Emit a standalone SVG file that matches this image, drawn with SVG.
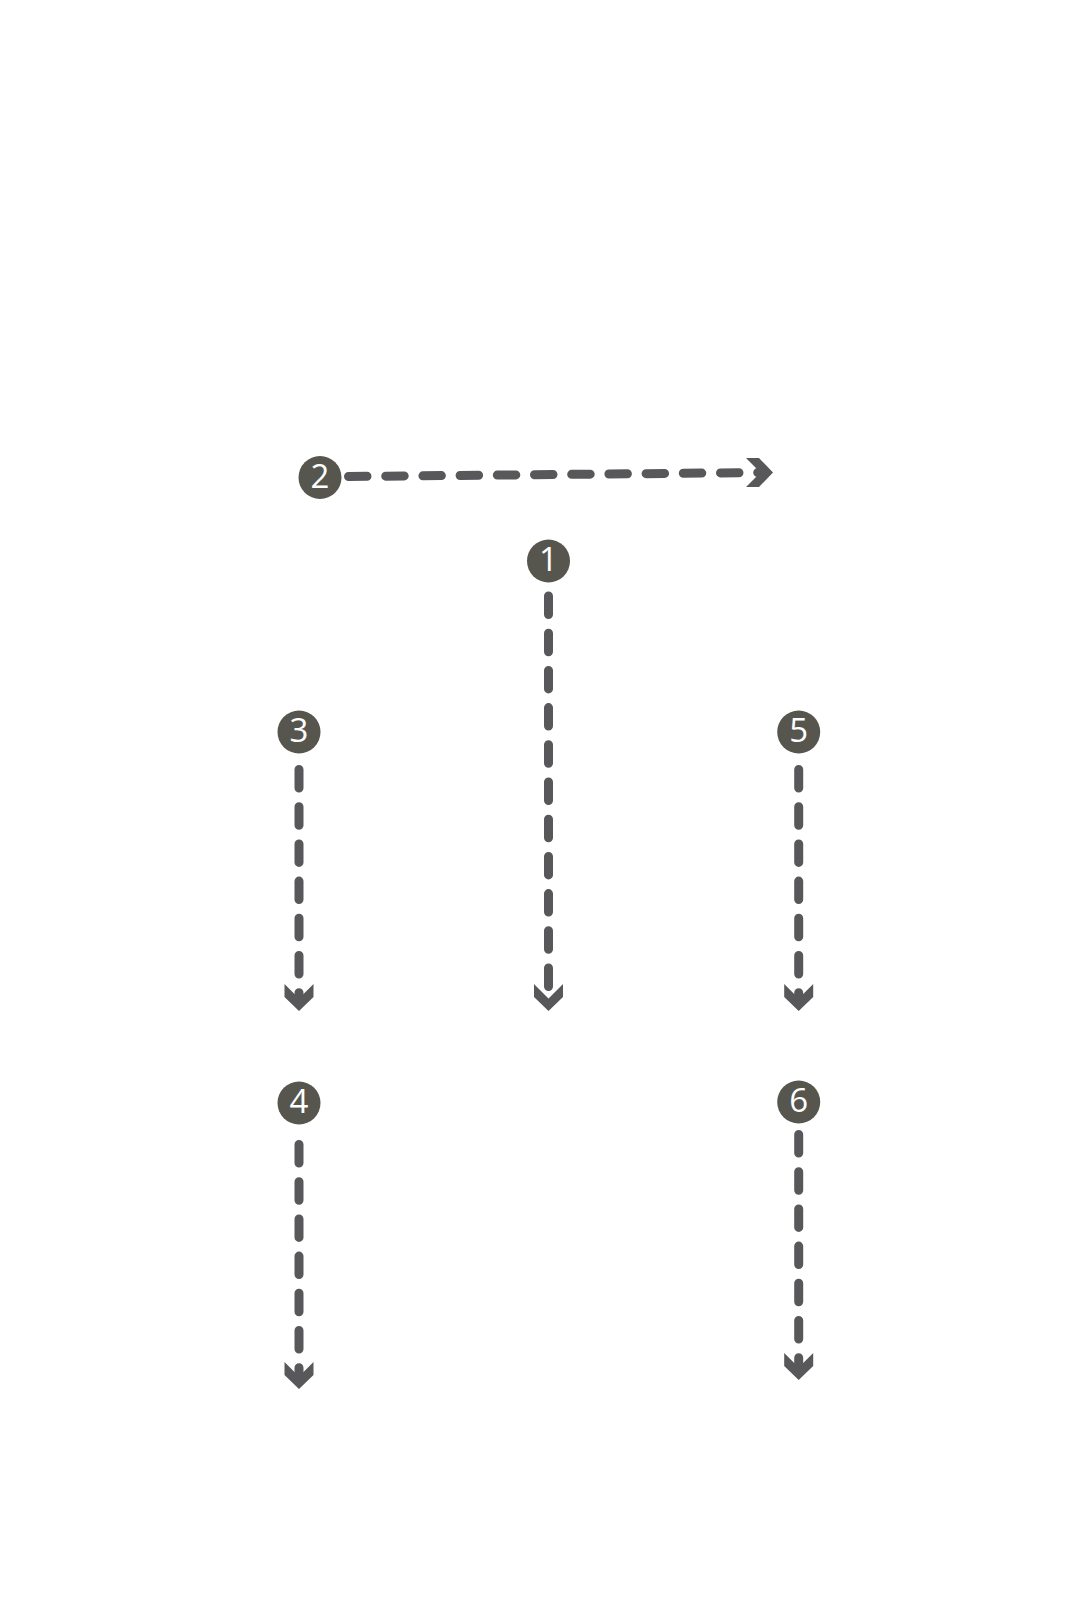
<svg xmlns="http://www.w3.org/2000/svg" xmlns:xlink="http://www.w3.org/1999/xlink" width="1067" height="1600" viewBox="0 0 1067 1600">
  <style>
    .dash { fill: none; stroke: #58585a; stroke-width: 9; stroke-linecap: round; stroke-dasharray: 18.5 18.7; }
    .head { fill: #58585a; }
    .badge { fill: #57564e; }
    .num { fill: #ffffff; font-family: "Open Sans", "Noto Sans", "Liberation Sans", sans-serif; font-size: 33px; text-anchor: middle; }
  </style>
  <defs>
    <polygon id="chev" class="head" points="-14.5,-27 0,-12.5 14.5,-27 14.5,-14 0,0 -14.5,-14"/>
  </defs>
  <rect width="1067" height="1600" fill="#ffffff"/>
  <g id="connectors">
    <path class="dash" d="M348.5,476.5 L763,472.5"/>
    <use xlink:href="#chev" transform="translate(773,472.5) rotate(-90)"/>
    <path class="dash" d="M548.5,596 L548.5,1000"/>
    <use xlink:href="#chev" transform="translate(548.5,1011)"/>
    <path class="dash" d="M299,769.5 L299,1000"/>
    <use xlink:href="#chev" transform="translate(299,1011)"/>
    <path class="dash" d="M798.7,769.5 L798.7,1000"/>
    <use xlink:href="#chev" transform="translate(798.7,1011)"/>
    <path class="dash" d="M299,1144.5 L299,1378"/>
    <use xlink:href="#chev" transform="translate(299,1389)"/>
    <path class="dash" d="M798.7,1134.5 L798.7,1369"/>
    <use xlink:href="#chev" transform="translate(798.7,1380)"/>
  </g>
  <g id="node-2"><circle class="badge" cx="320" cy="477.5" r="21.5"/><text class="num" x="320" y="487.5">2</text></g>
  <g id="node-1"><circle class="badge" cx="548.5" cy="561" r="21.5"/><text class="num" x="548.5" y="571">1</text></g>
  <g id="node-3"><circle class="badge" cx="299" cy="732" r="21.5"/><text class="num" x="299" y="742">3</text></g>
  <g id="node-5"><circle class="badge" cx="798.7" cy="732" r="21.5"/><text class="num" x="798.7" y="742">5</text></g>
  <g id="node-4"><circle class="badge" cx="299" cy="1103" r="21.5"/><text class="num" x="299" y="1113">4</text></g>
  <g id="node-6"><circle class="badge" cx="798.7" cy="1102" r="21.5"/><text class="num" x="798.7" y="1112">6</text></g>
</svg>
